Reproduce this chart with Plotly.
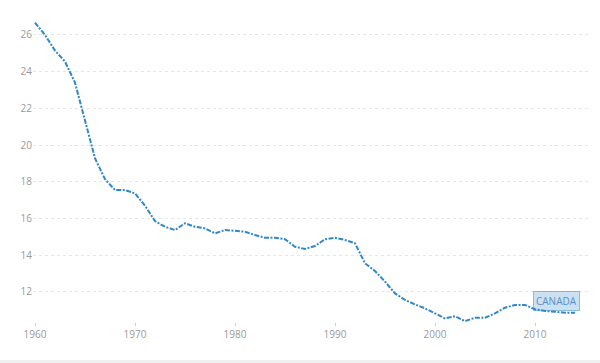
import plotly.graph_objects as go

years = list(range(1960, 2015))
values = [26.67, 26.0, 25.15, 24.55, 23.4, 21.28, 19.28, 18.14, 17.55, 17.55,
          17.37, 16.7, 15.86, 15.55, 15.37, 15.74, 15.55, 15.46, 15.19, 15.37,
          15.34, 15.28, 15.1, 14.95, 14.95, 14.87, 14.46, 14.34, 14.5, 14.87,
          14.95, 14.83, 14.65, 13.56, 13.14, 12.56, 11.92, 11.56, 11.32, 11.1,
          10.83, 10.56, 10.67, 10.41, 10.59, 10.59, 10.83, 11.14, 11.29, 11.29,
          11.05, 10.96, 10.92, 10.87, 10.87]
series_name = "CANADA"
x_ticks = [1960, 1970, 1980, 1990, 2000, 2010]
y_ticks = [12, 14, 16, 18, 20, 22, 24, 26]

line_color = "#3088c9"

fig = go.Figure()
fig.add_trace(go.Scatter(
    x=years, y=values, mode="lines", name=series_name,
    line=dict(color=line_color, width=2, dash="5px,1.5px,2px,1.5px"),
    cliponaxis=False, hoverinfo="skip"))

fig.add_annotation(
    x=2012.15, y=11.5, xref="x", yref="y", text=series_name, showarrow=False,
    font=dict(family="Open Sans", size=10, color="#5a8fc4"),
    bgcolor="rgba(48,136,201,0.25)", bordercolor="rgba(48,136,201,0.5)",
    borderwidth=1, borderpad=2)

fig.add_shape(type="rect", xref="paper", yref="paper", x0=-0.1, x1=1.1,
              y0=-0.122, y1=-0.2, fillcolor="#f0f0f0", line=dict(width=0),
              layer="above")

fig.update_layout(
    width=600, height=363,
    margin=dict(l=33, r=10, t=10, b=41),
    plot_bgcolor="white", paper_bgcolor="white",
    showlegend=False,
    font=dict(family="Open Sans", size=10, color="#999999"),
    xaxis=dict(range=[1959.8, 2015.5], tickvals=x_ticks, showgrid=False,
               zeroline=False, showline=False, ticks="outside", ticklen=3,
               tickcolor="#cccccc", automargin=False,
               tickfont=dict(size=10, color="#999999")),
    yaxis=dict(range=[10.36, 27.36], tickvals=y_ticks, showgrid=True,
               gridcolor="#e6e6e6", griddash="3px,3px", gridwidth=1,
               zeroline=False, showline=False, automargin=False,
               tickfont=dict(size=10, color="#999999")),
)

fig.write_html("out.html", config={"displayModeBar": False},
               post_script="document.body.style.margin='0';document.body.style.overflow='hidden';")
